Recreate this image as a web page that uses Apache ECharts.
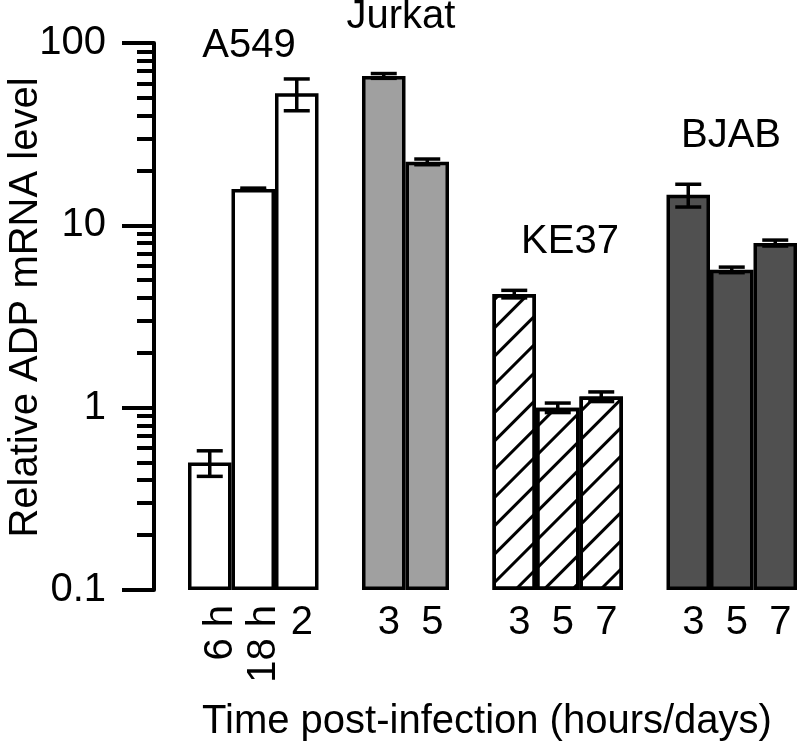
<!DOCTYPE html>
<html>
<head>
<meta charset="utf-8">
<script src="https://cdn.jsdelivr.net/npm/echarts@6/dist/echarts.min.js"></script>
<style>
html,body{margin:0;padding:0;background:#fff;}
#chart{width:800px;height:753px;}
</style>
</head>
<body>
<div id="chart"></div>
<script>
// ---- data ----
const categories = ['6 h', '18 h', '2', '', '3', '5', '', '3', '5', '7', '', '3', '5', '7'];
const groupNames = ['A549', 'Jurkat', 'KE37', 'BJAB'];
const groupStartIndex = [0, 4, 7, 11];
const a549Values = [0.5, 15.8, 53];
const a549Errors = [0.08, 0.2, 10.5];
const jurkatValues = [66, 22.3];
const jurkatErrors = [2, 0.8];
const ke37Values = [4.2, 1.0, 1.15];
const ke37Errors = [0.2, 0.06, 0.07];
const bjabValues = [14.7, 5.7, 8.0];
const bjabErrors = [2.1, 0.2, 0.3];
const majorTicks = [0.1, 1, 10, 100];
const minorTicks = [0.2,0.3,0.4,0.5,0.6,0.7,0.8,0.9,2,3,4,5,6,7,8,9,20,30,40,50,60,70,80,90];
const rotatedLabels = ['6 h', '18 h'];
const xTitle = 'Time post-infection (hours/days)';
const yTitle = 'Relative ADP mRNA level';

const FONT = "'Liberation Sans', Arial, sans-serif";
const FS = 40;

const groupValues = [a549Values, jurkatValues, ke37Values, bjabValues];
const groupErrors = [a549Errors, jurkatErrors, ke37Errors, bjabErrors];
const groupStyles = [
  { color: '#ffffff' },
  { color: '#a0a0a0' },
  { color: '#ffffff', decal: { symbol: 'rect', dashArrayX: [1, 0], dashArrayY: [3, 17], rotation: -Math.PI / 4, color: '#000000' } },
  { color: '#505050' }
];

function fullArray(g) {
  const arr = categories.map(() => '-');
  groupValues[g].forEach((v, k) => { arr[groupStartIndex[g] + k] = v; });
  return arr;
}

const barSeries = groupNames.map((name, g) => ({
  name: name,
  type: 'bar',
  xAxisIndex: 0,
  yAxisIndex: 0,
  barWidth: '100%',
  barGap: '-100%',
  data: fullArray(g),
  itemStyle: Object.assign({ borderColor: '#000', borderWidth: 3.5 }, groupStyles[g]),
  z: 2
}));

const errData = [];
groupValues.forEach((vals, g) => {
  vals.forEach((v, k) => errData.push([groupStartIndex[g] + k, v, groupErrors[g][k]]));
});

const errorSeries = {
  type: 'custom',
  xAxisIndex: 0,
  yAxisIndex: 0,
  z: 5,
  encode: { x: 0, y: 1 },
  data: errData,
  renderItem: function (params, api) {
    const i = api.value(0), v = api.value(1), e = api.value(2);
    const hi = api.coord([i, v + e]);
    const lo = api.coord([i, v - e]);
    const hw = 13;
    const st = { stroke: '#000', lineWidth: 3.5, fill: null };
    return {
      type: 'group',
      children: [
        { type: 'line', shape: { x1: hi[0], y1: hi[1], x2: lo[0], y2: lo[1] }, style: st },
        { type: 'line', shape: { x1: hi[0] - hw, y1: hi[1], x2: hi[0] + hw, y2: hi[1] }, style: st },
        { type: 'line', shape: { x1: lo[0] - hw, y1: lo[1], x2: lo[0] + hw, y2: lo[1] }, style: st }
      ]
    };
  }
};

const groupLabelPos = [[249, 46], [401, 17], [570, 242], [731, 136]];

const chart = echarts.init(document.getElementById('chart'), null, { renderer: 'canvas' });
chart.setOption({
  animation: false,
  backgroundColor: '#fff',
  grid: [
    { left: 188, right: 3, top: 43, bottom: 163, containLabel: false, outerBoundsMode: 'none' },
    { left: 199, right: -8, top: 43, bottom: 163, containLabel: false, outerBoundsMode: 'none' }
  ],
  xAxis: [
    {
      type: 'category', gridIndex: 0, data: categories, position: 'bottom',
      axisLine: { show: false }, axisTick: { show: false }, splitLine: { show: false },
      axisLabel: {
        interval: 0, margin: 13, color: '#000', fontFamily: FONT, fontSize: FS,
        padding: [0, 0, 0, 10],
        formatter: (v) => rotatedLabels.indexOf(v) >= 0 ? '' : v
      }
    },
    {
      type: 'category', gridIndex: 1, data: categories, position: 'bottom',
      axisLine: { show: false }, axisTick: { show: false }, splitLine: { show: false },
      axisLabel: {
        interval: 0, margin: 15, rotate: 90, color: '#000', fontFamily: FONT, fontSize: FS,
        formatter: (v) => rotatedLabels.indexOf(v) >= 0 ? v : ''
      }
    }
  ],
  yAxis: [
    {
      type: 'log', gridIndex: 0, logBase: 10, min: 0.1, max: 100, startValue: 0.1, position: 'left', offset: 34,
      name: yTitle, nameLocation: 'middle', nameGap: 108, nameRotate: 90, nameMoveOverlap: false,
      nameTextStyle: { color: '#000', fontFamily: FONT, fontSize: FS, padding: [0, 0, 0, 18] },
      axisLine: { show: true, lineStyle: { color: '#000', width: 4 } },
      axisTick: { show: true, length: 32, customValues: majorTicks, lineStyle: { color: '#000', width: 4 } },
      axisLabel: {
        margin: 48, color: '#000', fontFamily: FONT, fontSize: FS, customValues: majorTicks,
        formatter: (v) => String(+v.toPrecision(3))
      },
      splitLine: { show: false }
    },
    {
      type: 'log', gridIndex: 0, logBase: 10, min: 0.1, max: 100, position: 'left', offset: 34,
      axisLine: { show: false },
      axisTick: { show: true, length: 17, customValues: minorTicks, lineStyle: { color: '#000', width: 4 } },
      axisLabel: { show: false },
      splitLine: { show: false }
    },
    {
      type: 'value', gridIndex: 1, show: false
    }
  ],
  graphic: groupNames.map((name, g) => ({
    type: 'text', x: groupLabelPos[g][0], y: groupLabelPos[g][1],
    style: { text: name, fill: '#000', font: FS + 'px ' + FONT, textAlign: 'center', textVerticalAlign: 'middle' }
  })).concat([{
    type: 'text', x: 487, y: 722,
    style: { text: xTitle, fill: '#000', font: FS + 'px ' + FONT, textAlign: 'center', textVerticalAlign: 'middle' }
  }]),
  series: barSeries.concat([errorSeries])
});
</script>
</body>
</html>
